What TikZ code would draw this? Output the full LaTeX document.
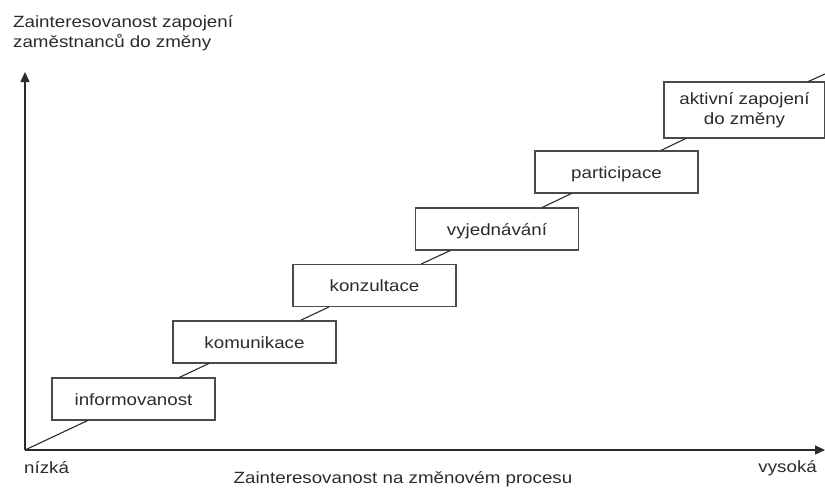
\documentclass[tikz,border=0pt]{standalone}
\usepackage{fontspec}
\setmainfont{Liberation Sans}[FakeStretch=1.15]
\usetikzlibrary{arrows.meta}
\definecolor{ink}{HTML}{2B2B2B}
\definecolor{edge}{HTML}{4A4A4A}
\begin{document}
\begin{tikzpicture}[x=1pt,y=-1pt,
  lbl/.style={font=\fontsize{16.3}{20}\selectfont, text=ink, inner sep=0pt},
  boxed/.style={lbl, draw=edge, line width=1.1pt, fill=white, inner sep=0pt},
  stage/.style={boxed, minimum width=163pt, minimum height=42pt,
                text height=12pt, text depth=0pt},
  axis/.style={draw=ink, line width=1.4pt, -{Triangle[length=10pt,width=9pt]}},
  rise/.style={draw=ink, line width=1.1pt}]
\useasboundingbox (0,0) rectangle (825,488);

% axes
\coordinate (o) at (25,450);
\coordinate (ytip) at (25,72);
\coordinate (xtip) at (825,450);
\coordinate (top) at (825,74);
\draw[axis] (o) -- (ytip);
\draw[axis] (o) -- (xtip);

% stages of involvement
\node[stage] (b1) at (133.5,399) {informovanost};
\node[stage] (b2) at (254.5,342) {komunikace};
\node[stage] (b3) at (374.5,285.5) {konzultace};
\node[stage] (b4) at (497,229) {vyjednávání};
\node[stage] (b5) at (616.5,172) {participace};
\node[boxed, minimum width=161pt, minimum height=56pt, align=center]
  (b6) at (744.5,110) {aktivní zapojení\\do změny};

% rising line through the stages
\draw[rise] (o) -- (b1) -- (b2) -- (b3) -- (b4) -- (b5) -- (b6) -- (top);

% axis labels
\node[lbl, anchor=base west] (ytitle1) at (13,27) {Zainteresovanost zapojení};
\node[lbl, anchor=base west] (ytitle2) at (13,47) {zaměstnanců do změny};
\node[lbl, anchor=base west] (low) at (24,473) {nízká};
\node[lbl, anchor=base east] (high) at (817,472) {vysoká};
\node[lbl, anchor=base] (xtitle) at (403,483) {Zainteresovanost na změnovém procesu};
\end{tikzpicture}
\end{document}
